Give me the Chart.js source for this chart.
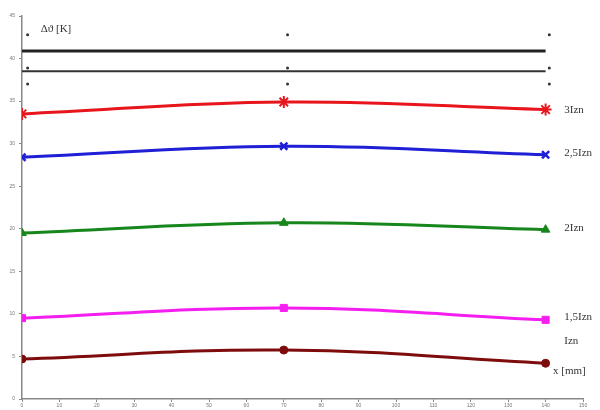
<!DOCTYPE html>
<html>
<head>
<meta charset="utf-8">
<script src="https://cdn.jsdelivr.net/npm/chart.js@4"></script>
<style>
  html, body { margin: 0; padding: 0; background: #fff; }
  #wrap { width: 600px; height: 410px; }
</style>
</head>
<body>
<div id="wrap"><canvas id="chart" width="600" height="410"></canvas></div>
<script>
// positions along x [mm]
const xPos = [0, 70, 140];

// temperature rise for each current level
const i3 = [33.5, 34.9, 34.0];
const i25 = [28.4, 29.7, 28.7];
const i2 = [19.5, 20.7, 19.9];
const i15 = [9.5, 10.7, 9.3];
const i1 = [4.7, 5.75, 4.2];

const seriesNames = ['3Izn', '2,5Izn', '2Izn', '1,5Izn', 'Izn'];
const labelY = [33.9, 28.9, 20.1, 9.6, 6.8];

// two horizontal reference lines
const refA = [40.9, 40.9];
const refB = [38.5, 38.5];
const refX = [0, 140];

// small stray dots
const dotX = [1.5, 1.5, 1.5, 71, 71, 71, 141, 141, 141];
const dotY = [42.8, 38.9, 37.0, 42.8, 38.9, 37.0, 42.8, 38.9, 37.0];

const xTicks = [0,10,20,30,40,50,60,70,80,90,100,110,120,130,140,150];
const yTicks = [0,5,10,15,20,25,30,35,40,45];

const pts = (xs, ys) => xs.map((x, i) => ({x: x, y: ys[i]}));

function series(data, color, style, r, bw) {
  return {
    data: pts(xPos, data),
    borderColor: color,
    backgroundColor: color,
    borderWidth: 3,
    tension: 0.4,
    pointStyle: style,
    pointRadius: r,
    pointBorderWidth: bw
  };
}

const labelsPlugin = {
  id: 'labels',
  afterDatasetsDraw(chart) {
    const ctx = chart.ctx;
    const xs = chart.scales.x, ys = chart.scales.y;
    ctx.save();
    ctx.fillStyle = '#333';
    ctx.font = '11px "Liberation Serif", serif';
    ctx.textBaseline = 'middle';
    seriesNames.forEach((n, i) => {
      ctx.fillText(n, xs.getPixelForValue(145), ys.getPixelForValue(labelY[i]));
    });
    ctx.fillText('x [mm]', xs.getPixelForValue(142), ys.getPixelForValue(3.3));
    ctx.fillText('Δϑ [K]', xs.getPixelForValue(5), ys.getPixelForValue(43.5));
    ctx.restore();
  }
};

new Chart(document.getElementById('chart'), {
  type: 'line',
  data: {
    datasets: [
      series(i3, '#e8161c', 'star', 6, 2),
      series(i25, '#1f1fd6', 'crossRot', 5, 2.5),
      series(i2, '#17861c', 'triangle', 5, 1),
      series(i15, '#f51ef0', 'rect', 5, 1),
      series(i1, '#7e0c0c', 'circle', 4, 1),
      {data: pts(refX, refA), borderColor: '#222', borderWidth: 3, pointRadius: 0},
      {data: pts(refX, refB), borderColor: '#333', borderWidth: 2, pointRadius: 0},
      {data: pts(dotX, dotY), showLine: false, pointRadius: 1.5,
        backgroundColor: '#333', borderWidth: 0}
    ]
  },
  options: {
    responsive: false,
    animation: false,
    layout: { padding: { top: 16, right: 17, left: 0, bottom: 0 } },
    plugins: { legend: { display: false }, tooltip: { enabled: false } },
    scales: {
      x: {
        type: 'linear', min: 0, max: 150,
        afterBuildTicks: s => { s.ticks = xTicks.map(v => ({value: v})); },
        afterFit: s => { s.height = 11; },
        grid: { drawOnChartArea: false, tickLength: 3, color: '#888' },
        border: { color: '#888', width: 1.5 },
        ticks: { font: { size: 5 }, color: '#777', padding: 1, maxRotation: 0 }
      },
      y: {
        min: 0, max: 45,
        afterBuildTicks: s => { s.ticks = yTicks.map(v => ({value: v})); },
        afterFit: s => { s.width = 22; },
        grid: { drawOnChartArea: false, tickLength: 3, color: '#888' },
        border: { color: '#888', width: 1.5 },
        ticks: { font: { size: 5 }, color: '#777', padding: 4 }
      }
    }
  },
  plugins: [labelsPlugin]
});
</script>
</body>
</html>
